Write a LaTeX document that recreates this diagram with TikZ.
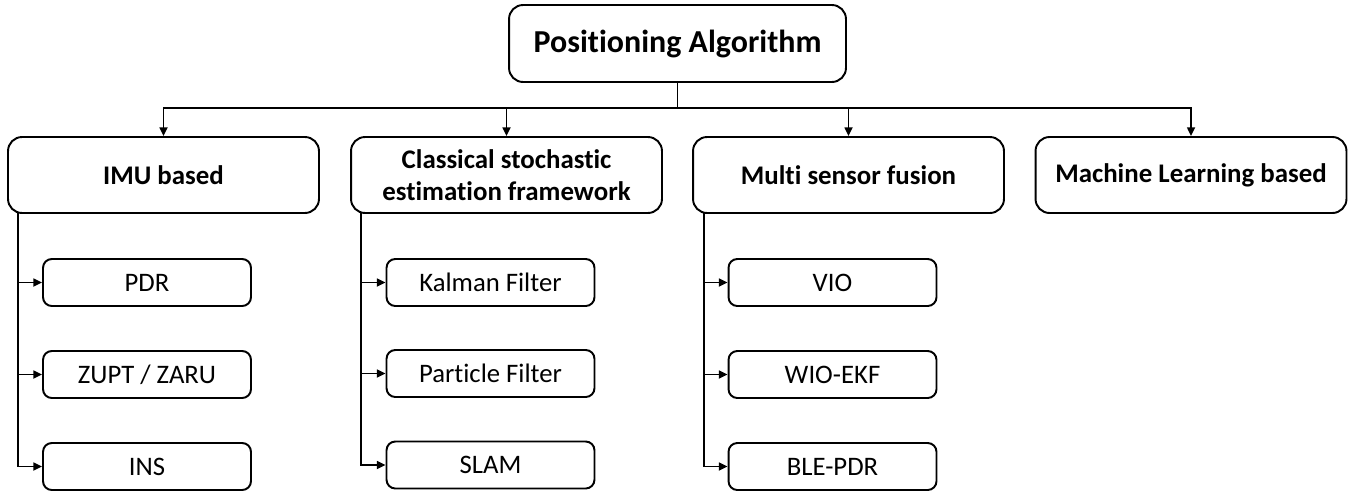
\documentclass[tikz,border=0pt]{standalone}
\usepackage{fontspec}
\setmainfont{Carlito}[RawFeature=-liga]
\usetikzlibrary{arrows.meta}
\begin{document}
\begin{tikzpicture}[x=0.02cm,y=-0.02cm,
  line width=1.1pt,
  rootbox/.style={draw, rounded corners=8pt, fill=white, minimum width=6.74cm, minimum height=1.54cm, font=\fontsize{18.2}{21}\selectfont\bfseries, inner sep=0pt},
  catbox/.style={draw, rounded corners=8pt, fill=white, minimum width=6.22cm, minimum height=1.52cm, font=\fontsize{15.3}{18.5}\selectfont\bfseries, align=center, inner sep=0pt},
  leafbox/.style={draw, rounded corners=5pt, fill=white, minimum width=4.16cm, minimum height=0.94cm, font=\fontsize{15.2}{18}\selectfont, inner sep=0pt},
  link/.style={-{Triangle[length=5pt,width=4.5pt]}}
]
\useasboundingbox (0,0) rectangle (1354,491);

% root
\node[rootbox] (root) at (677.5,43.5) {Positioning Algorithm};

% categories
\node[catbox] (imu)  at (163.5,175) {IMU based};
\node[catbox] (cse)  at (506.5,175) {Classical stochastic\\estimation framework};
\node[catbox] (msf)  at (848.5,175) {Multi sensor fusion};
\node[catbox] (ml)   at (1191,175) {Machine Learning based};

% leaves
\node[leafbox] (pdr)  at (147,282.5) {PDR};
\node[leafbox] (zupt) at (147,374.5) {ZUPT / ZARU};
\node[leafbox] (ins)  at (147,466.5) {INS};

\node[leafbox] (kf)   at (490.5,282.5) {Kalman Filter};
\node[leafbox] (pf)   at (490.5,373.5) {Particle Filter};
\node[leafbox] (slam) at (490.5,465) {SLAM};

\node[leafbox] (vio)  at (832.5,282.5) {VIO};
\node[leafbox] (wio)  at (832.5,374.5) {WIO-EKF};
\node[leafbox] (ble)  at (832.5,466.5) {BLE-PDR};

% root to categories
\coordinate (bus) at (677.5,108);
\draw (root.south) -- (bus);
\draw[link] (bus) -| (imu.north);
\draw[link] (bus) -| (cse.north);
\draw[link] (bus) -| (msf.north);
\draw[link] (bus) -| (ml.north);

% categories to leaves
\coordinate (imuT) at (18,213);
\coordinate (cseT) at (361,213);
\coordinate (msfT) at (704,213);
\draw[link] (imuT) |- (pdr.west);
\draw[link] (imuT) |- (zupt.west);
\draw[link] (imuT) |- (ins.west);
\draw[link] (cseT) |- (kf.west);
\draw[link] (cseT) |- (pf.west);
\draw[link] (cseT) |- (slam.west);
\draw[link] (msfT) |- (vio.west);
\draw[link] (msfT) |- (wio.west);
\draw[link] (msfT) |- (ble.west);
\end{tikzpicture}
\end{document}
